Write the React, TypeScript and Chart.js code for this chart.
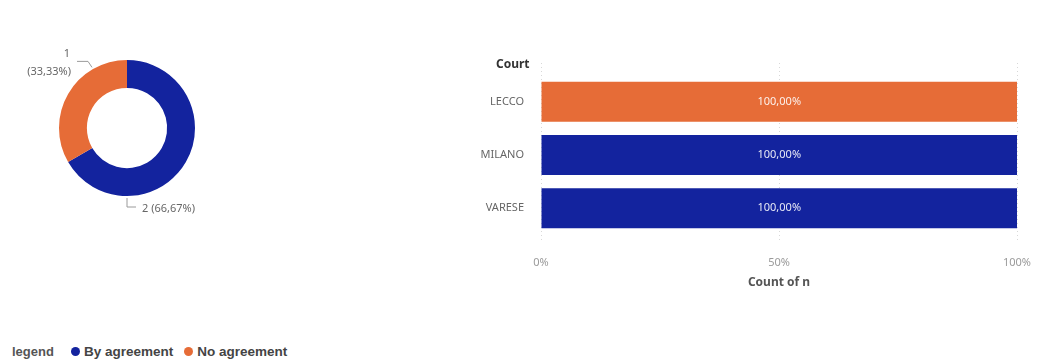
import React, { useEffect, useRef } from 'react';
import { Chart, registerables } from 'chart.js';
Chart.register(...registerables);

// ---- data ----
const donutLabels = ['2', '1'];
const donutValues = [2, 1];
const courts = ['LECCO', 'MILANO', 'VARESE'];
const byAgreement = [0, 1, 1];
const noAgreement = [1, 0, 0];
const seriesNames = ['By agreement', 'No agreement'];
const xAxisTitle = 'Count of n';
const yAxisTitle = 'Court';
const legendTitle = 'legend';

const BLUE = '#13239E';
const ORANGE = '#E66C37';
const FONT = '"Noto Sans", "Open Sans", sans-serif';

const fmtPct = (v: number) => v.toFixed(2).replace('.', ',') + '%';

const donutLabelPlugin = {
  id: 'donutLabels',
  afterDatasetsDraw(chart: any) {
    const meta = chart.getDatasetMeta(0);
    const ds = chart.data.datasets[0];
    const total = (ds.data as number[]).reduce((a, b) => a + b, 0);
    const ctx = chart.ctx;
    ctx.save();
    ctx.strokeStyle = '#9a9a9a';
    ctx.lineWidth = 1;
    ctx.fillStyle = '#666';
    ctx.font = '11px ' + FONT;
    ctx.textBaseline = 'middle';
    meta.data.forEach((arc: any, i: number) => {
      const p = arc.getProps(['x', 'y', 'startAngle', 'endAngle', 'outerRadius'], true);
      const a = p.startAngle + 0.75 * (p.endAngle - p.startAngle);
      const r = p.outerRadius + 2;
      const px = p.x + r * Math.cos(a);
      const py = p.y + r * Math.sin(a);
      const label = chart.data.labels[i];
      const pct = fmtPct((ds.data[i] / total) * 100);
      ctx.beginPath();
      if (Math.cos(a) < -0.01) {
        ctx.moveTo(px, py);
        ctx.lineTo(px - 4, py - 6);
        ctx.lineTo(px - 15, py - 6);
        ctx.stroke();
        ctx.textAlign = 'right';
        ctx.fillText(label, px - 22, py - 14);
        ctx.fillText('(' + pct + ')', px - 21, py + 4);
      } else {
        ctx.moveTo(px, py);
        ctx.lineTo(px, py + 9);
        ctx.lineTo(px + 9, py + 9);
        ctx.stroke();
        ctx.textAlign = 'left';
        ctx.fillText(label + ' (' + pct + ')', px + 15, py + 11);
      }
    });
    ctx.restore();
  },
};

const barExtrasPlugin = {
  id: 'barExtras',
  beforeDatasetsDraw(chart: any) {
    const { ctx, chartArea } = chart;
    const xs = chart.scales.x;
    ctx.save();
    ctx.strokeStyle = '#d8d8d8';
    ctx.lineWidth = 1;
    ctx.setLineDash([1, 3]);
    xs.ticks.forEach((t: any) => {
      const x = Math.round(xs.getPixelForValue(t.value)) + 0.5;
      ctx.beginPath();
      ctx.moveTo(x, chartArea.top - 12);
      ctx.lineTo(x, chartArea.bottom + 6);
      ctx.stroke();
    });
    ctx.restore();
  },
  afterDatasetsDraw(chart: any) {
    const { ctx, chartArea } = chart;
    const n = chart.data.labels.length;
    const totals: number[] = [];
    for (let j = 0; j < n; j++) {
      totals[j] = chart.data.datasets.reduce((s: number, d: any) => s + d.data[j], 0);
    }
    ctx.save();
    ctx.font = '11px ' + FONT;
    ctx.fillStyle = 'rgba(255,255,255,0.9)';
    ctx.textAlign = 'center';
    ctx.textBaseline = 'middle';
    chart.data.datasets.forEach((d: any, di: number) => {
      const meta = chart.getDatasetMeta(di);
      meta.data.forEach((el: any, j: number) => {
        if (!d.data[j]) return;
        const p = el.getProps(['x', 'y', 'base'], true);
        ctx.fillText(fmtPct((d.data[j] / totals[j]) * 100), (p.x + p.base) / 2, p.y);
      });
    });
    ctx.font = 'bold 12px ' + FONT;
    ctx.fillStyle = '#333';
    ctx.textAlign = 'left';
    ctx.fillText(yAxisTitle, chartArea.left - 45, chartArea.top - 10);
    ctx.restore();
  },
};

function Donut() {
  const ref = useRef<HTMLCanvasElement>(null);
  useEffect(() => {
    const chart = new Chart(ref.current!, {
      type: 'doughnut',
      data: {
        labels: donutLabels,
        datasets: [
          {
            data: donutValues,
            backgroundColor: [BLUE, ORANGE],
            borderWidth: 0,
            hoverOffset: 0,
          },
        ],
      },
      options: {
        animation: false,
        responsive: false,
        devicePixelRatio: 1,
        cutout: '59%',
        layout: { padding: { left: 59, top: 60, right: 65, bottom: 44 } },
        plugins: { legend: { display: false }, tooltip: { enabled: false } },
      },
      plugins: [donutLabelPlugin],
    });
    return () => chart.destroy();
  }, []);
  return <canvas ref={ref} width={260} height={240} style={{ position: 'absolute', left: 0, top: 0 }} />;
}

function Bars() {
  const ref = useRef<HTMLCanvasElement>(null);
  useEffect(() => {
    const chart = new Chart(ref.current!, {
      type: 'bar',
      data: {
        labels: courts,
        datasets: [
          { label: seriesNames[0], data: byAgreement, backgroundColor: BLUE, borderWidth: 0, barPercentage: 0.75, categoryPercentage: 1 },
          { label: seriesNames[1], data: noAgreement, backgroundColor: ORANGE, borderWidth: 0, barPercentage: 0.75, categoryPercentage: 1 },
        ],
      },
      options: {
        animation: false,
        responsive: false,
        devicePixelRatio: 1,
        indexAxis: 'y',
        layout: { padding: { top: 35, right: 22, left: 0, bottom: 0 } },
        plugins: { legend: { display: false }, tooltip: { enabled: false } },
        scales: {
          x: {
            stacked: true,
            min: 0,
            max: 1,
            grid: {
              display: true,
              color: 'rgba(0,0,0,0)',
              drawOnChartArea: false,
              drawTicks: true,
              tickLength: 19,
            },
            border: { display: false },
            ticks: {
              stepSize: 0.5,
              padding: 2,
              color: '#9a9a9a',
              font: { family: FONT, size: 11 },
              callback: (v: any) => Math.round(Number(v) * 100) + '%',
            },
            title: {
              display: true,
              text: xAxisTitle,
              color: '#555',
              font: { family: FONT, size: 12, weight: 'bold' },
              padding: { top: 0, bottom: 10 },
            },
            afterFit: (s: any) => {
              s.height = 65;
            },
          },
          y: {
            stacked: true,
            grid: { display: false, drawTicks: false },
            border: { display: false },
            ticks: { padding: 17, color: '#666', font: { family: FONT, size: 11 } },
            afterFit: (s: any) => {
              s.width = 81;
            },
          },
        },
      },
      plugins: [barExtrasPlugin],
    });
    return () => chart.destroy();
  }, []);
  return <canvas ref={ref} width={579} height={260} style={{ position: 'absolute', left: 460, top: 40 }} />;
}

function Dot({ color }: { color: string }) {
  return (
    <span
      style={{
        display: 'inline-block',
        width: 9,
        height: 9,
        borderRadius: '50%',
        background: color,
        marginRight: 4,
        marginLeft: 0,
      }}
    />
  );
}

export default function App() {
  return (
    <div style={{ position: 'absolute', left: 0, top: 0, width: 1039, height: 362, background: '#fff', overflow: 'hidden' }}>
      <Donut />
      <Bars />
      <div
        style={{
          position: 'absolute',
          left: 12,
          top: 342,
          height: 18,
          display: 'flex',
          alignItems: 'center',
          fontFamily: '"Liberation Sans", Arial, sans-serif',
          fontWeight: 'bold',
          fontSize: 13.5,
          color: '#444',
          whiteSpace: 'nowrap',
        }}
      >
        <span style={{ color: '#555', fontSize: 13, marginRight: 17 }}>{legendTitle}</span>
        <Dot color={BLUE} />
        <span style={{ marginRight: 11 }}>{seriesNames[0]}</span>
        <Dot color={ORANGE} />
        <span>{seriesNames[1]}</span>
      </div>
    </div>
  );
}
